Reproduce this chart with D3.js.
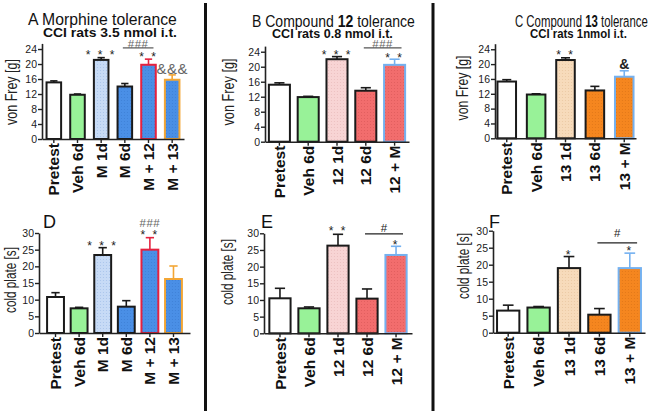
<!DOCTYPE html>
<html><head><meta charset="utf-8">
<script src="https://cdn.jsdelivr.net/npm/d3@7"></script>
<style>body{margin:0;background:#fff;} svg{display:block;font-family:Arial,"Liberation Sans",sans-serif;}</style>
</head><body>
<svg id="c" width="650" height="413"></svg>
<script>
// ---------- data ----------
const catsA = ["Pretest","Veh 6d","M 1d","M 6d","M + 12","M + 13"];
const valsA = [15.1,11.8,21.1,14.0,19.8,15.8];
const errsA = [0.4,0.2,0.6,0.8,1.5,1.3];
const catsB = ["Pretest","Veh 6d","12 1d","12 6d","12 + M"];
const valsB = [15.2,11.9,22.0,13.6,20.5];
const errsB = [0.5,0.2,0.7,0.8,1.5];
const catsC = ["Pretest","Veh 6d","13 1d","13 6d","13 + M"];
const valsC = [15.3,11.8,21.1,12.9,16.6];
const errsC = [0.5,0.2,0.6,1.1,1.6];
const catsD = ["Pretest","Veh 6d","M 1d","M 6d","M + 12","M + 13"];
const valsD = [10.8,7.4,23.4,7.9,25.0,16.2];
const errsD = [1.3,0.3,2.2,1.8,3.6,3.9];
const catsE = ["Pretest","Veh 6d","12 1d","12 6d","12 + M"];
const valsE = [10.5,7.5,26.3,10.4,23.5];
const errsE = [3.0,0.4,3.4,2.9,2.6];
const catsF = ["Pretest","Veh 6d","13 1d","13 6d","13 + M"];
const valsF = [6.5,7.4,19.0,5.3,19.0];
const errsF = [1.6,0.3,3.4,1.8,4.4];
const vfTicks = [0,4,8,12,16,20,24];
const cpTicks = [0,5,10,15,20,25,30];

// significance marks (value level in data units)
const annA = [
  {text:"* * *", cat:"M 1d", v:23.2},
  {text:"###", from:"M 6d", to:"M + 12", v:25.4, line:24.3, grey:true},
  {text:"* *", cat:"M + 12", v:22.7},
  {text:"&&&", cat:"M + 13", v:18.9, grey:true, big:true}
];
const annB = [
  {text:"* * *", cat:"12 1d", v:23.9},
  {text:"###", from:"12 6d", to:"12 + M", v:26.1, line:25.0, grey:true},
  {text:"* *", cat:"12 + M", v:23.1}
];
const annC = [
  {text:"* *", cat:"13 1d", v:23.2},
  {text:"&", cat:"13 + M", v:20.0, bold:true}
];
const annD = [
  {text:"* * *", cat:"M 1d", v:27.0},
  {text:"###", cat:"M + 12", v:33.0, grey:true},
  {text:"* *", cat:"M + 12", v:30.3}
];
const annE = [
  {text:"* *", cat:"12 1d", v:31.6},
  {text:"#", from:"12 6d", to:"12 + M", v:31.6, line:29.8},
  {text:"*", cat:"12 + M", v:27.4}
];
const annF = [
  {text:"*", cat:"13 1d", v:23.7},
  {text:"#", from:"13 6d", to:"13 + M", v:29.3, line:26.4},
  {text:"*", cat:"13 + M", v:24.9}
];

// ---------- styles ----------
const fills = {
  white:"#ffffff", green:"#98f298", lblue:"#c7dbf6", blue:"#4a8fe6",
  pink:"#f8d4d4", red:"#f26d6d", peach:"#f7dbbb", orange:"#f5861f"
};
const dotted = {lblue:"#7fa6dc", blue:"#2f6fc4", pink:"#d9a3a3", red:"#c94848", peach:"#d9b084", orange:"#c86410"};
const barStyle = {
  "Pretest":{f:"white", s:"#1a1a1a"}, "Veh 6d":{f:"green", s:"#1a1a1a"},
  "M 1d":{f:"lblue", s:"#1a1a1a"}, "M 6d":{f:"blue", s:"#1a1a1a"},
  "M + 12":{f:"blue", s:"#e5223f"}, "M + 13":{f:"blue", s:"#f3a635"},
  "12 1d":{f:"pink", s:"#1a1a1a"}, "12 6d":{f:"red", s:"#1a1a1a"},
  "12 + M":{f:"red", s:"#74b1f0"},
  "13 1d":{f:"peach", s:"#1a1a1a"}, "13 6d":{f:"orange", s:"#1a1a1a"},
  "13 + M":{f:"orange", s:"#74b1f0"}
};

const svg = d3.select("#c");
const defs = svg.append("defs");
Object.keys(fills).forEach(k => {
  if (!dotted[k]) return;
  const p = defs.append("pattern").attr("id","p_"+k).attr("patternUnits","userSpaceOnUse")
    .attr("width",3).attr("height",3);
  p.append("rect").attr("width",3).attr("height",3).attr("fill",fills[k]);
  p.append("circle").attr("cx",1.5).attr("cy",1.5).attr("r",0.6).attr("fill",dotted[k]).attr("opacity",0.45);
});
const fillOf = k => dotted[k] ? `url(#p_${k})` : fills[k];

// ---------- layout ----------
const panels = [
  {cats:catsA, vals:valsA, errs:errsA, ticks:vfTicks, dom:[0,25.5], yr:[139,43.4], xr:[42,184], pI:0.3, pO:0.15, ann:annA, ylab:"von Frey [g]", lx:11, ly:92, ll:66},
  {cats:catsB, vals:valsB, errs:errsB, ticks:vfTicks, dom:[0,25.5], yr:[141.7,46.1], xr:[265,409], pI:0.2, pO:0.1, ann:annB, ylab:"von Frey [g]", lx:228, ly:92, ll:67},
  {cats:catsC, vals:valsC, errs:errsC, ticks:vfTicks, dom:[0,25.5], yr:[138.3,43.7], xr:[495,636], pI:0.3, pO:0.05, ann:annC, ylab:"von Frey [g]", lx:462, ly:88, ll:65},
  {cats:catsD, vals:valsD, errs:errsD, ticks:cpTicks, dom:[0,30], yr:[333,233], xr:[39,190], pI:0.2, pO:0.3, ann:annD, ylab:"cold plate [s]", lx:10, ly:280, ll:66, letter:"D", letX:43},
  {cats:catsE, vals:valsE, errs:errsE, ticks:cpTicks, dom:[0,30], yr:[333.3,233.3], xr:[264,412], pI:0.2, pO:0.15, ann:annE, ylab:"cold plate [s]", lx:227, ly:272, ll:66, letter:"E", letX:261},
  {cats:catsF, vals:valsF, errs:errsF, ticks:cpTicks, dom:[0,30], yr:[332.7,230.7], xr:[493,645], pI:0.2, pO:0.1, ann:annF, ylab:"cold plate [s]", lx:463, ly:266, ll:66, letter:"F", letX:489}
];

panels.forEach(P => {
  const g = svg.append("g");
  const x = d3.scaleBand().domain(P.cats).range(P.xr).paddingInner(P.pI).paddingOuter(P.pO);
  const y = d3.scaleLinear().domain(P.dom).range(P.yr);
  const bw = x.bandwidth();
  const rows = P.cats.map((c,i)=>({c, v:P.vals[i], e:P.errs[i], st:barStyle[c]}));

  rows.forEach(r => {
    const cx = x(r.c) + bw/2;
    g.append("line").attr("x1",cx).attr("x2",cx).attr("y1",y(r.v)).attr("y2",y(r.v+r.e))
      .attr("stroke",r.st.s).attr("stroke-width",1.6);
    g.append("line").attr("x1",cx-bw*0.22).attr("x2",cx+bw*0.22).attr("y1",y(r.v+r.e)).attr("y2",y(r.v+r.e))
      .attr("stroke",r.st.s).attr("stroke-width",1.6);
  });
  g.selectAll("rect.bar").data(rows).join("rect").attr("class","bar")
    .attr("x",d=>x(d.c)+1).attr("width",bw-2)
    .attr("y",d=>y(d.v)).attr("height",d=>y(0)-y(d.v))
    .attr("fill",d=>fillOf(d.st.f)).attr("stroke",d=>d.st.s).attr("stroke-width",2);

  const ya = g.append("g").attr("transform",`translate(${P.xr[0]},0)`)
    .call(d3.axisLeft(y).tickValues(P.ticks).tickSize(4).tickSizeOuter(0).tickPadding(1));
  ya.select(".domain").attr("stroke","#222").attr("stroke-width",1.6);
  ya.selectAll(".tick line").attr("stroke","#222").attr("stroke-width",1.4);
  ya.selectAll("text").attr("font-size",10.5).attr("fill","#222").attr("font-family","Arial, 'Liberation Sans', sans-serif");

  const xa = g.append("g").attr("transform",`translate(0,${P.yr[0]})`)
    .call(d3.axisBottom(x).tickSize(4).tickSizeOuter(0));
  xa.select(".domain").attr("stroke","#222").attr("stroke-width",1.6);
  xa.selectAll(".tick line").attr("stroke","#222").attr("stroke-width",1.4);
  xa.selectAll("text").attr("transform","rotate(-90)").attr("x",-4).attr("y",0).attr("dy","0.36em")
    .style("text-anchor","end").attr("font-size",15.5).attr("font-weight","bold").attr("fill","#111")
    .attr("font-family","Arial, 'Liberation Sans', sans-serif");

  // y label
  g.append("text").attr("transform",`translate(${P.lx + 5.5},${P.ly}) rotate(-90)`)
    .attr("text-anchor","middle").attr("font-size",16.5).attr("fill","#222")
    .attr("textLength",P.ll).attr("lengthAdjust","spacingAndGlyphs").text(P.ylab);

  if (P.letter) {
    g.append("text").attr("x",P.letX).attr("y",228).attr("font-size",18).attr("fill","#111").text(P.letter);
  }

  P.ann.forEach(a => {
    const onlyStars = /^[* ]+$/.test(a.text);
    const fs = onlyStars ? 12 : (a.big ? 15 : (a.bold ? 14 : 11.5));
    let cx;
    if (a.from) {
      const x1 = x(a.from) + bw/2 - 2, x2 = x(a.to) + bw*0.8;
      cx = (x1+x2)/2;
      g.append("line").attr("x1",x1).attr("x2",x2).attr("y1",y(a.line)).attr("y2",y(a.line))
        .attr("stroke",a.grey ? "#555" : "#222").attr("stroke-width",1.2);
    } else {
      cx = x(a.cat) + bw/2;
    }
    const base = y(a.v) + (onlyStars ? 0.58*fs : 0.36*fs);
    g.append("text").attr("x",cx).attr("y",base).attr("text-anchor","middle")
      .attr("font-size",fs).attr("font-weight",a.bold ? "bold" : "normal")
      .attr("letter-spacing", onlyStars ? 2 : (a.grey ? 0.5 : 0))
      .attr("fill",a.grey ? "#666" : "#222").text(a.text);
  });
});

// titles: drawn at natural size, then squeezed horizontally to the measured width
function title(xp, yb, len, parts, fs, bold) {
  const g = svg.append("g");
  const t = g.append("text").attr("x",0).attr("y",0).attr("font-size",fs).attr("fill","#111")
    .attr("font-weight", bold ? "bold" : "normal");
  parts.forEach(p => t.append("tspan").attr("font-weight", p[1] ? "bold" : null).text(p[0]));
  const w = t.node().getComputedTextLength() || len;
  g.attr("transform",`translate(${xp},${yb}) scale(${len/w},1)`);
}
title(28, 25, 149, [["A  Morphine tolerance",false]], 16.5, false);
title(252, 26.5, 163, [["B Compound ",false],["12",true],[" tolerance",false]], 16.5, false);
title(515, 26.5, 133, [["C  Compound ",false],["13",true],[" tolerance",false]], 16.5, false);
title(43, 36.5, 134, [["CCI rats 3.5 nmol i.t.",true]], 12, true);
title(272, 38, 121, [["CCI rats 0.8 nmol i.t.",true]], 12, true);
title(530, 38, 97, [["CCI rats 1nmol i.t.",true]], 12, true);

// separators
[205.5, 433].forEach(sx => {
  svg.append("line").attr("x1",sx).attr("x2",sx).attr("y1",3).attr("y2",411)
    .attr("stroke","#111").attr("stroke-width",3);
});
</script>
</body></html>
